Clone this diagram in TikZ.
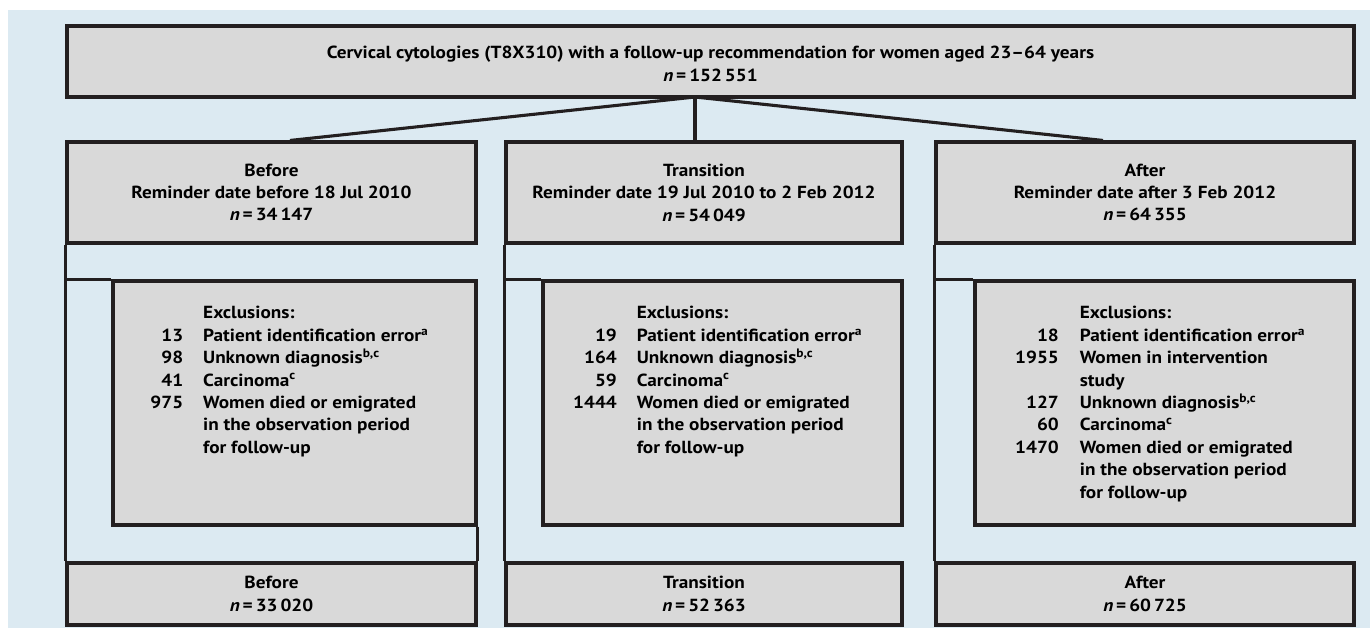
\documentclass[tikz,border=0pt]{standalone}
\usepackage{fontspec}
\setmainfont{PT Sans}[FakeStretch=1.1]
\usetikzlibrary{calc}
\definecolor{bgblue}{HTML}{DCEAF2}
\definecolor{boxgray}{HTML}{D9D9D9}
\definecolor{linec}{HTML}{231F20}
\newcommand{\nn}{\textit{n}\,=\,}
\begin{document}
\begin{tikzpicture}[x=1pt,y=-1pt,
  box/.style={draw=linec,fill=boxgray,line width=3.1pt,inner sep=0pt,align=center,
    font=\fontsize{17.5}{22.4}\selectfont\bfseries},
  frame/.style={draw=linec,line width=3.1pt},
  exlist/.style={inner sep=0pt,anchor=north west,align=left,
    font=\fontsize{17.5}{22.4}\selectfont\bfseries},
  lbl/.style={inner sep=0pt,align=center,font=\fontsize{17.5}{22.4}\selectfont\bfseries}]
\useasboundingbox (0,0) rectangle (1370,630);
\fill[bgblue] (8,10) rectangle (1370,628);

% top
\node[box,minimum width=1287pt,minimum height=71pt] (top) at (710.5,61.5) {};
\node[lbl] (toptext) at (710.5,64) {Cervical cytologies (T8X310) with a follow-up recommendation for women aged 23–64 years\\ \nn 152\,551};

% middle boxes
\node[box,minimum width=409pt,minimum height=101pt] (mid1) at (271.5,192.5)
  {Before\\Reminder date before 18 Jul 2010\\ \nn 34\,147};
\node[box,minimum width=396pt,minimum height=101pt] (mid2) at (704,192.5)
  {Transition\\Reminder date 19 Jul 2010 to 2 Feb 2012\\ \nn 54\,049};
\node[box,minimum width=418pt,minimum height=101pt] (mid3) at (1145,192.5)
  {After\\Reminder date after 3 Feb 2012\\ \nn 64\,355};

% connectors
\coordinate (j) at (695,97);
\draw[frame] (j) -- ([xshift=18.5pt]mid1.north);
\draw[frame] (j) -- ([xshift=-9pt]mid2.north);
\draw[frame] (j) -- ([xshift=-42pt]mid3.north);

% exclusion boxes
\node[box,minimum width=363pt,minimum height=244pt] (exc1) at (294.5,403) {};
\node[box,minimum width=359pt,minimum height=244pt] (exc2) at (722.5,403) {};
\node[box,minimum width=379pt,minimum height=244pt] (exc3) at (1164.5,403) {};

% bottom boxes
\node[box,minimum width=409pt,minimum height=62pt] (bot1) at (271.5,594) {Before\\ \nn 33\,020};
\node[box,minimum width=396pt,minimum height=62pt] (bot2) at (704,594) {Transition\\ \nn 52\,363};
\node[box,minimum width=418pt,minimum height=62pt] (bot3) at (1145,594) {After\\ \nn 60\,725};

% frame lines
\draw[frame] (mid1.south west) -- (bot1.north west);
\draw[frame] (mid1.south west |- exc1.north) -- (exc1.north west);
\draw[frame] (exc1.south east) -- (bot1.north east);
\draw[frame] (mid2.south west) -- (bot2.north west);
\draw[frame] (mid2.south west |- exc2.north) -- (exc2.north west);
\draw[frame] (mid3.south west) -- (bot3.north west);
\draw[frame] (mid3.south west |- exc3.north) -- (exc3.north west);

% exclusion lists
\node[exlist] (list1) at (141,303) {\begin{tabular}{@{}r@{\hspace{20pt}}l@{}}
\makebox[42pt][r]{} & Exclusions:\\
13 & Patient identification error\textsuperscript{a}\\
98 & Unknown diagnosis\textsuperscript{b,c}\\
41 & Carcinoma\textsuperscript{c}\\
975 & Women died or emigrated\\
 & in the observation period\\
 & for follow-up
\end{tabular}};
\node[exlist] (list2) at (573,303) {\begin{tabular}{@{}r@{\hspace{20pt}}l@{}}
\makebox[42pt][r]{} & Exclusions:\\
19 & Patient identification error\textsuperscript{a}\\
164 & Unknown diagnosis\textsuperscript{b,c}\\
59 & Carcinoma\textsuperscript{c}\\
1444 & Women died or emigrated\\
 & in the observation period\\
 & for follow-up
\end{tabular}};
\node[exlist] (list3) at (1015,303) {\begin{tabular}{@{}r@{\hspace{21pt}}l@{}}
\makebox[42pt][r]{} & Exclusions:\\
18 & Patient identification error\textsuperscript{a}\\
1955 & Women in intervention\\
 & study\\
127 & Unknown diagnosis\textsuperscript{b,c}\\
60 & Carcinoma\textsuperscript{c}\\
1470 & Women died or emigrated\\
 & in the observation period\\
 & for follow-up
\end{tabular}};
\end{tikzpicture}
\end{document}
